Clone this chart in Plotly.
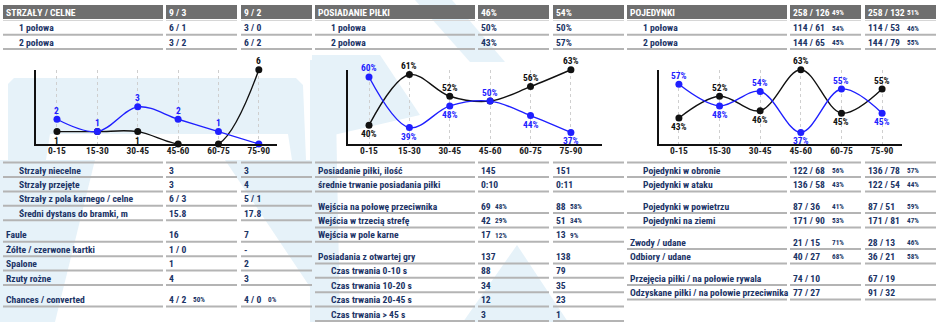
import plotly.graph_objects as go

W, H = 940, 322
FONT = "Roboto Condensed, Open Sans Condensed, DejaVu Sans Condensed, sans-serif"
NAVY = "#1b3466"
BLUE = "#1f1fff"
BLACK = "#111111"
GRAY = "#6f6f6f"
LINE = "#b4b4b4"
BG = "#e6f2f9"

# ---------------- data ----------------
periods = ["0-15", "15-30", "30-45", "45-60", "60-75", "75-90"]
shots_team1 = [2, 1, 3, 2, 1, 0]      # blue
shots_team2 = [1, 1, 1, 0, 0, 6]      # black
poss_team1 = [60, 39, 48, 50, 44, 37]
poss_team2 = [40, 61, 52, 50, 56, 63]
duel_team1 = [57, 48, 54, 37, 55, 45]
duel_team2 = [43, 52, 46, 63, 45, 55]

headers = [
    ("STRZAŁY / CELNE", "9 / 3", "", "9 / 2", ""),
    ("POSIADANIE PIŁKI", "46%", "", "54%", ""),
    ("POJEDYNKI", "258 / 126", "49%", "258 / 132", "51%"),
]
halves = [
    [("1 połowa", "6 / 1", "", "3 / 0", ""), ("2 połowa", "3 / 2", "", "6 / 2", "")],
    [("1 połowa", "50%", "", "50%", ""), ("2 połowa", "43%", "", "57%", "")],
    [("1 połowa", "114 / 61", "54%", "114 / 53", "46%"), ("2 połowa", "144 / 65", "45%", "144 / 79", "55%")],
]
# (group, indent, label, v1, p1, v2, p2)
shots_rows = [
    (0, 1, "Strzały niecelne", "3", "", "3", ""),
    (0, 1, "Strzały przejęte", "3", "", "4", ""),
    (0, 1, "Strzały z pola karnego / celne", "6 / 3", "", "5 / 1", ""),
    (0, 1, "Średni dystans do bramki, m", "15.8", "", "17.8", ""),
    (1, 0, "Faule", "16", "", "7", ""),
    (1, 0, "Żółte / czerwone kartki", "1 / 0", "", "-", ""),
    (1, 0, "Spalone", "1", "", "2", ""),
    (1, 0, "Rzuty rożne", "4", "", "3", ""),
    (2, 0, "Chances / converted", "4 / 2", "50%", "4 / 0", "0%"),
]
poss_rows = [
    (0, 0, "Posiadanie piłki, ilość", "145", "", "151", ""),
    (0, 0, "średnie trwanie posiadania piłki", "0:10", "", "0:11", ""),
    (1, 0, "Wejścia na połowę przeciwnika", "69", "48%", "88", "58%"),
    (1, 0, "Wejścia w trzecią strefę", "42", "29%", "51", "34%"),
    (1, 0, "Wejścia w pole karne", "17", "12%", "13", "9%"),
    (2, 0, "Posiadania z otwartej gry", "137", "", "138", ""),
    (2, 1, "Czas trwania 0-10 s", "88", "", "79", ""),
    (2, 1, "Czas trwania 10-20 s", "34", "", "35", ""),
    (2, 1, "Czas trwania 20-45 s", "12", "", "23", ""),
    (2, 1, "Czas trwania > 45 s", "3", "", "1", ""),
]
duel_rows = [
    (0, 1, "Pojedynki w obronie", "122 / 68", "56%", "136 / 78", "57%"),
    (0, 1, "Pojedynki w ataku", "136 / 58", "43%", "122 / 54", "44%"),
    (1, 1, "Pojedynki w powietrzu", "87 / 36", "41%", "87 / 51", "59%"),
    (1, 1, "Pojedynki na ziemi", "171 / 90", "53%", "171 / 81", "47%"),
    (2, 0, "Zwody / udane", "21 / 15", "71%", "28 / 13", "46%"),
    (2, 0, "Odbiory / udane", "40 / 27", "68%", "36 / 21", "58%"),
    (3, 0, "Przejęcia piłki / na połowie rywala", "74 / 10", "", "67 / 19", ""),
    (3, 0, "Odzyskane piłki / na połowie przeciwnika", "77 / 27", "", "91 / 32", ""),
]

fig = go.Figure()
shapes = []


def X(x):
    return x / W


def Y(y):
    return 1 - y / H


def ann(x, y, text, size=9.6, color=NAVY, anchor="left"):
    fig.add_annotation(x=X(x), y=Y(y), xref="paper", yref="paper", text=text,
                       showarrow=False, xanchor=anchor, yanchor="middle", borderpad=0,
                       font=dict(family=FONT, size=size, color=color, weight="bold"))


def hline(x0, x1, y, color=LINE, w=2):
    shapes.append(dict(type="line", xref="paper", yref="paper", x0=X(x0), x1=X(x1),
                       y0=Y(y), y1=Y(y), line=dict(color=color, width=w)))


def rect(x0, y0, x1, y1, color):
    shapes.append(dict(type="rect", xref="paper", yref="paper", x0=X(x0), x1=X(x1),
                       y0=Y(y1), y1=Y(y0), fillcolor=color, line=dict(width=0)))


def poly(pts, color=BG):
    path = "M " + " L ".join(f"{X(a):.5f},{Y(b):.5f}" for a, b in pts) + " Z"
    shapes.append(dict(type="path", xref="paper", yref="paper", path=path,
                       fillcolor=color, line=dict(width=0), layer="below"))


# ---------------- background watermark ----------------
poly([(8, 84), (14, 78), (296, 78), (303, 85), (306, 160), (292, 160), (288, 134), (50, 134), (46, 160), (8, 160)])
poly([(0, 160), (95, 160), (55, 322), (0, 322)])
poly([(225, 160), (312, 160), (312, 290)])
poly([(310, 60), (335, 60), (340, 322), (310, 322)])
poly([(415, 0), (452, 0), (505, 62), (470, 62)])
poly([(517, 245), (463, 322), (568, 322)])
poly([(312, 55), (380, 55), (420, 115), (312, 140)])

# ---------------- line charts ----------------
SEGS = [(0, 160), (163, 234), (238, 309)]
charts = [
    dict(t1=shots_team1, t2=shots_team2, fmt="{}", x0=36, x1=277, xr=[-0.52, 5.45], yr=[0, 6.02], zero=True),
    dict(t1=poss_team1, t2=poss_team2, fmt="{}%", x0=348, x1=602, xr=[-0.52, 5.77], yr=[32.2, 63.1], zero=False),
    dict(t1=duel_team1, t2=duel_team2, fmt="{}%", x0=659, x1=902, xr=[-0.49, 5.49], yr=[32.2, 63.1], zero=False),
]
xs = list(range(len(periods)))
UP, DOWN = 9, -8.5


def labels(own, other, is_blue, fmt, zero):
    out = []
    for a, b in zip(own, other):
        if zero and a == 0:
            out.append(("", 0))
        elif a > b:
            out.append((fmt.format(a), UP))
        elif a < b:
            out.append((fmt.format(a), DOWN))
        else:
            out.append((fmt.format(a) if is_blue else "", UP))
    return out


for i, c in enumerate(charts):
    sfx = "" if i == 0 else str(i + 1)
    for vals, other, col, is_blue in ((c["t2"], c["t1"], BLACK, False), (c["t1"], c["t2"], BLUE, True)):
        fig.add_trace(go.Scatter(
            x=xs, y=vals, mode="lines+markers",
            line=dict(color=col, width=1.4, shape="spline", smoothing=1.0),
            marker=dict(color=col, size=7),
            cliponaxis=False, showlegend=False, hoverinfo="skip",
            xaxis="x" + sfx, yaxis="y" + sfx))
        for xi, v, (txt, shift) in zip(xs, vals, labels(vals, other, is_blue, c["fmt"], c["zero"])):
            if txt:
                fig.add_annotation(x=xi, y=v, xref="x" + sfx, yref="y" + sfx, text=txt,
                                   showarrow=False, yshift=shift, xanchor="center", yanchor="middle",
                                   borderpad=0, font=dict(family=FONT, size=9.5, color=col, weight="bold"))
    fig.layout["xaxis" + sfx] = dict(
        domain=[X(c["x0"]), X(c["x1"])], range=c["xr"], anchor="y" + sfx,
        tickvals=xs, ticktext=periods, showline=True, linecolor=BLACK, linewidth=1.5,
        ticks="", showgrid=True, gridcolor="#cfcfcf", griddash="dot", gridwidth=1,
        zeroline=False, tickfont=dict(family=FONT, size=9.5, color="#222222", weight="bold"),
        ticklabelstandoff=-3, fixedrange=True)
    fig.layout["yaxis" + sfx] = dict(
        domain=[Y(144), Y(69.5)], range=c["yr"], anchor="x" + sfx,
        showline=True, linecolor=BLACK, linewidth=1.5, showticklabels=False,
        showgrid=False, zeroline=False, ticks="", fixedrange=True)

# ---------------- tables ----------------
panels = [
    dict(ox=3, head=headers[0], top=halves[0], rows=shots_rows, p1=189, p2=264),
    dict(ox=315, head=headers[1], top=halves[1], rows=poss_rows, p1=179, p2=254),
    dict(ox=627, head=headers[2], top=halves[2], rows=duel_rows, p1=204, p2=279),
]

for p in panels:
    ox = p["ox"]
    lab, v1, pc1, v2, pc2 = p["head"]
    for a, b in SEGS:
        rect(ox + a, 5, ox + b, 19, GRAY)
        hline(ox + a, ox + b, 20.5, color="#d6d6d6", w=1)
    ann(ox + 2, 12.5, lab, color="white")
    ann(ox + 165, 12.5, v1, color="white")
    ann(ox + 240, 12.5, v2, color="white")
    if pc1:
        ann(ox + p["p1"], 12.8, pc1, size=7.2, color="white")
    if pc2:
        ann(ox + p["p2"], 12.8, pc2, size=7.2, color="white")
    for k, (lab, v1, pc1, v2, pc2) in enumerate(p["top"]):
        y = 28 + 14.2 * k
        ann(ox + 15, y, lab)
        ann(ox + 165, y, v1)
        ann(ox + 240, y, v2)
        if pc1:
            ann(ox + p["p1"], y + 0.3, pc1, size=7.2)
        if pc2:
            ann(ox + p["p2"], y + 0.3, pc2, size=7.2)
        for a, b in SEGS:
            hline(ox + a, ox + b, y + 6.8)
    for a, b in SEGS:
        hline(ox + a, ox + b, 162.5)
    for k, (g, ind, lab, v1, pc1, v2, pc2) in enumerate(p["rows"]):
        y = 170 + 14.4 * k + 7.2 * g
        ann(ox + (15 if ind else 2), y, lab)
        ann(ox + 165, y, v1)
        ann(ox + 240, y, v2)
        if pc1:
            ann(ox + p["p1"], y + 0.3, pc1, size=7.2)
        if pc2:
            ann(ox + p["p2"], y + 0.3, pc2, size=7.2)
        for a, b in SEGS:
            hline(ox + a, ox + b, y + 7)

fig.update_layout(
    width=W, height=H, margin=dict(l=0, r=0, t=0, b=0),
    paper_bgcolor="white", plot_bgcolor="rgba(0,0,0,0)",
    shapes=shapes, showlegend=False,
)

fig.write_html("out.html")
